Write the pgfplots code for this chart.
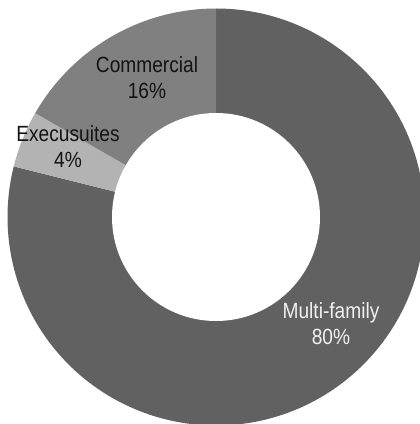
\documentclass[border=0pt]{standalone}
\usepackage{pgfplots}
\pgfplotsset{compat=1.18}
\usepackage{fontspec}
\setmainfont{Liberation Sans}[FakeStretch=0.87]
\definecolor{cMulti}{HTML}{616161}
\definecolor{cExec}{HTML}{B3B3B3}
\definecolor{cComm}{HTML}{808080}
\definecolor{tDark}{HTML}{141414}
\definecolor{tLight}{HTML}{F0F0F0}
% shares in percent
\def\vMulti{78.9}
\def\vExec{4.4}
\def\vComm{16.7}
\begin{document}
\begin{tikzpicture}
\useasboundingbox (0,0) rectangle (420bp,424bp);
\clip (0,0) rectangle (420bp,424bp);
\pgfmathsetmacro{\aS}{90}
\pgfmathsetmacro{\aA}{90-3.6*\vMulti}
\pgfmathsetmacro{\aB}{\aA-3.6*\vExec}
\pgfmathsetmacro{\aC}{\aB-3.6*\vComm}
\begin{axis}[at={(0,0)}, anchor=south west, scale only axis,
  width=420bp, height=424bp, xmin=0, xmax=420, ymin=0, ymax=424,
  y dir=reverse, hide axis, clip=false]
\coordinate (c) at (axis cs:216,217);
\fill[cMulti] (c) -- ++(\aS:208.5bp) arc[start angle=\aS, end angle=\aA, radius=208.5bp] -- cycle;
\fill[cExec] (c) -- ++(\aA:208.5bp) arc[start angle=\aA, end angle=\aB, radius=208.5bp] -- cycle;
\fill[cComm] (c) -- ++(\aB:208.5bp) arc[start angle=\aB, end angle=\aC, radius=208.5bp] -- cycle;
\fill[white] (c) circle[radius=104bp];
\begin{scope}[every node/.style={inner sep=0pt, anchor=base, font=\fontsize{22bp}{26bp}\selectfont}]
\node[text=tDark] at (axis cs:147,73) {Commercial};
\node[text=tDark] at (axis cs:147,99) {16\%};
\node[text=tDark] at (axis cs:68,141) {Execusuites};
\node[text=tDark] at (axis cs:68,167) {4\%};
\node[text=tLight] at (axis cs:331,318) {Multi-family};
\node[text=tLight] at (axis cs:331,344) {80\%};
\end{scope}
\end{axis}
\end{tikzpicture}
\end{document}
